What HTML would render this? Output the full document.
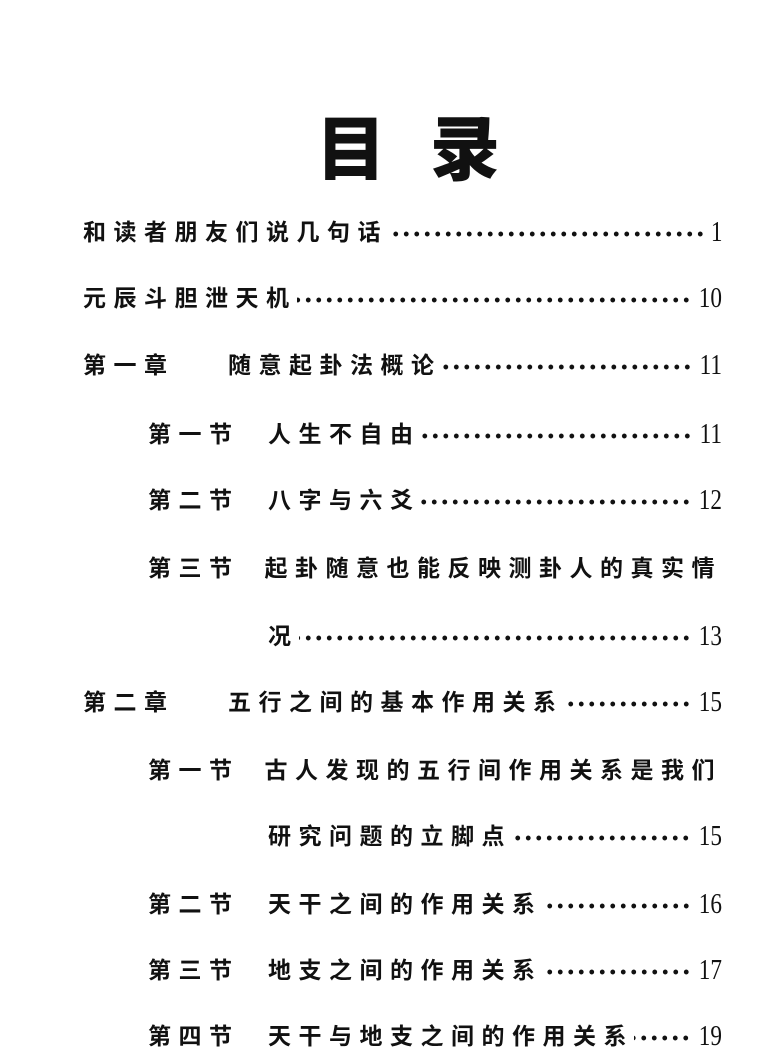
<!DOCTYPE html>
<html><head><meta charset="utf-8"><style>
html,body{margin:0;padding:0;background:#fff;}
body{width:774px;height:1060px;position:relative;overflow:hidden;font-family:"Liberation Sans","Noto Sans CJK SC",sans-serif;color:#111;}
.t{position:absolute;left:316px;top:112px;font-size:70px;font-weight:900;letter-spacing:44px;line-height:76px;font-family:"Liberation Sans","Noto Sans CJK SC",sans-serif;}
.r{position:absolute;right:52px;height:34px;display:flex;align-items:center;font-size:23px;font-weight:bold;line-height:34px;}
.r .a{white-space:nowrap;letter-spacing:7.5px;}
.r .b{position:absolute;white-space:nowrap;letter-spacing:7.5px;}
.l{flex:1;height:8px;margin:0 2px 0 0;background-image:radial-gradient(circle,#111 2.2px,transparent 2.6px);background-size:10.5px 8px;background-position:right center;background-repeat:repeat-x;position:relative;top:2px;}
.n{font-family:"Liberation Serif",serif;font-weight:normal;font-size:29px;transform:scaleX(0.8);transform-origin:right center;}
</style></head><body>
<div class="t">目录</div>

<div class="r" style="left:83px;top:215px"><span class="a">和读者朋友们说几句话</span><span class="l"></span><span class="n">1</span></div>
<div class="r" style="left:83px;top:281px"><span class="a">元辰斗胆泄天机</span><span class="l"></span><span class="n">10</span></div>
<div class="r" style="left:83px;top:348px"><span class="a" style="width:145px">第一章</span><span class="a">随意起卦法概论</span><span class="l"></span><span class="n">11</span></div>
<div class="r" style="left:148px;top:417px"><span class="a" style="width:120px">第一节</span><span class="a">人生不自由</span><span class="l"></span><span class="n">11</span></div>
<div class="r" style="left:148px;top:483px"><span class="a" style="width:120px">第二节</span><span class="a">八字与六爻</span><span class="l"></span><span class="n">12</span></div>
<div class="r" style="left:148px;top:551px"><span class="a" style="width:120px">第三节</span><span class="a">起卦随意也能反映测卦人的真实情</span></div>
<div class="r" style="left:268px;top:619px"><span class="a">况</span><span class="l"></span><span class="n">13</span></div>
<div class="r" style="left:83px;top:685px"><span class="a" style="width:145px">第二章</span><span class="a">五行之间的基本作用关系</span><span class="l"></span><span class="n">15</span></div>
<div class="r" style="left:148px;top:753px"><span class="a" style="width:120px">第一节</span><span class="a">古人发现的五行间作用关系是我们</span></div>
<div class="r" style="left:268px;top:819px"><span class="a">研究问题的立脚点</span><span class="l"></span><span class="n">15</span></div>
<div class="r" style="left:148px;top:887px"><span class="a" style="width:120px">第二节</span><span class="a">天干之间的作用关系</span><span class="l"></span><span class="n">16</span></div>
<div class="r" style="left:148px;top:953px"><span class="a" style="width:120px">第三节</span><span class="a">地支之间的作用关系</span><span class="l"></span><span class="n">17</span></div>
<div class="r" style="left:148px;top:1019px"><span class="a" style="width:120px">第四节</span><span class="a">天干与地支之间的作用关系</span><span class="l"></span><span class="n">19</span></div>
</body></html>
